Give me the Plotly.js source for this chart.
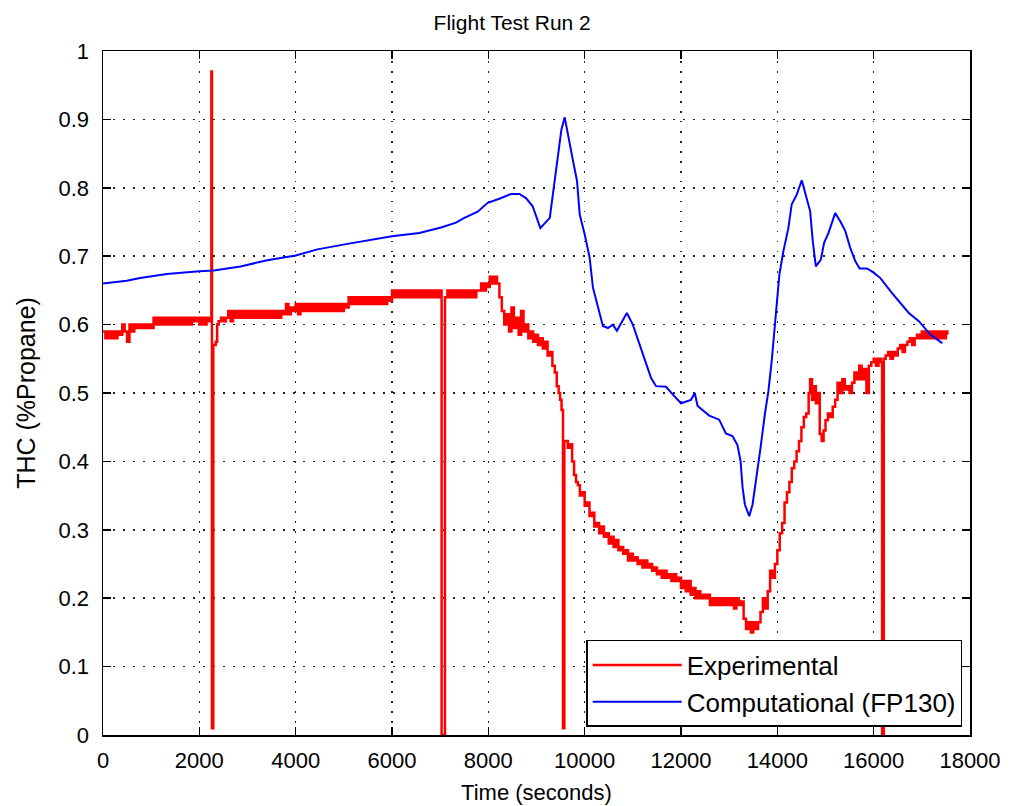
<!DOCTYPE html>
<html>
<head>
<meta charset="utf-8">
<script src="https://cdn.plot.ly/plotly-3.0.1.min.js"></script>
<style>
  html, body { margin: 0; padding: 0; background: #ffffff; }
  #chart { width: 1016px; height: 806px; }
</style>
</head>
<body>
<div id="chart"></div>
<script>
// Experimental THC record (seconds, %Propane)
const expTime = [
  0, 50, 100, 150, 200, 250, 300, 350,
  400, 450, 500, 550, 600, 650,
  700, 750, 800, 850, 900, 950, 1000, 1050,
  1100, 1150, 1200, 1250, 1300, 1350, 1400, 1450, 1500, 1550, 1600, 1650, 1700, 1750, 1800, 1850, 1900, 1950, 2000, 2050, 2100, 2150, 2200,
  2250, 2262, 2290, 2340, 2370, 2400, 2450, 2500, 2550, 2600, 2650, 2700,
  2750, 2800, 2850, 2900, 2950, 3000, 3050, 3100, 3150, 3200, 3250, 3300, 3350, 3400, 3450, 3500, 3550, 3600, 3650, 3700,
  3750, 3800, 3850, 3900, 3950, 4000, 4050, 4100,
  4150, 4200, 4250, 4300, 4350, 4400, 4450, 4500, 4550, 4600, 4650, 4700, 4750, 4800, 4850, 4900, 4950, 5000, 5050,
  5100, 5150, 5200, 5250, 5300, 5350, 5400, 5450, 5500, 5550, 5600, 5650, 5700, 5750, 5800, 5850, 5900, 5950, 6000,
  6050, 6100, 6150, 6200, 6250, 6300, 6350, 6400, 6450, 6500, 6550, 6600, 6650, 6700, 6750, 6800, 6850, 6900, 6950, 7000,
  7030, 7062, 7100, 7150, 7200, 7250, 7300, 7350, 7400, 7450, 7500, 7550, 7600, 7650, 7700, 7750,
  7800, 7850, 7900, 7950, 8000,
  8030, 8080, 8130, 8180, 8230, 8280,
  8330, 8380, 8430, 8480, 8530, 8580, 8630, 8680, 8730,
  8780, 8830, 8880, 8930, 8980, 9030, 9080, 9130, 9180,
  9230, 9280, 9330, 9380, 9420, 9460, 9490, 9520,
  9550, 9578, 9650, 9700, 9740, 9780, 9820, 9860, 9900, 9950,
  10000, 10050, 10100, 10150, 10200, 10250, 10300, 10350, 10400, 10450,
  10500, 10550, 10600, 10650, 10700, 10750, 10800, 10850, 10900, 10950,
  11000, 11050, 11100, 11150, 11200, 11250, 11300, 11350, 11400, 11450,
  11500, 11550, 11600, 11650, 11700, 11750, 11800, 11850, 11900, 11950,
  12000, 12050, 12100, 12150, 12200, 12250, 12300, 12350, 12400, 12450,
  12500, 12550, 12600, 12650, 12700, 12750, 12800, 12850, 12900, 12950,
  13000, 13050, 13100, 13150, 13200, 13250,
  13300, 13350, 13400, 13450, 13500, 13550, 13600, 13650, 13700, 13750,
  13800, 13850, 13900, 13950, 14000, 14050, 14100, 14150, 14200, 14250,
  14300, 14350, 14400, 14450, 14500, 14550, 14600, 14650, 14680, 14720,
  14760, 14800, 14850, 14880, 14920, 14960, 15000, 15050, 15100, 15150,
  15200, 15250, 15300, 15350, 15400, 15450, 15500, 15550, 15600, 15650,
  15700, 15750, 15800, 15850, 15900, 15950, 16000, 16050, 16100, 16150,
  16175, 16210, 16250, 16300, 16350, 16400, 16450, 16500, 16550, 16600,
  16650, 16700, 16750, 16800, 16850, 16900, 16950, 17000, 17050, 17100,
  17150, 17200, 17250, 17300, 17350, 17400, 17450, 17500, 17530
];
const expTHC = [
  0.590, 0.580, 0.590, 0.580, 0.590, 0.580, 0.590, 0.585,
  0.600, 0.590, 0.575, 0.600, 0.590, 0.600,
  0.595, 0.600, 0.595, 0.600, 0.595, 0.600, 0.595, 0.610,
  0.600, 0.610, 0.600, 0.610, 0.600, 0.610, 0.600, 0.610, 0.600, 0.610, 0.600, 0.610, 0.600, 0.610, 0.600, 0.610, 0.605, 0.610, 0.600, 0.610, 0.600, 0.610, 0.605,
  0.970, 0.010, 0.570, 0.575, 0.600, 0.605, 0.610, 0.605, 0.610, 0.620, 0.605, 0.620,
  0.610, 0.620, 0.610, 0.620, 0.610, 0.620, 0.610, 0.620, 0.610, 0.620, 0.610, 0.620, 0.610, 0.620, 0.610, 0.620, 0.610, 0.620, 0.610, 0.620,
  0.615, 0.630, 0.615, 0.625, 0.620, 0.630, 0.615, 0.630,
  0.620, 0.630, 0.620, 0.630, 0.620, 0.630, 0.620, 0.630, 0.620, 0.630, 0.620, 0.630, 0.620, 0.630, 0.620, 0.630, 0.620, 0.630, 0.625,
  0.640, 0.630, 0.640, 0.630, 0.640, 0.630, 0.640, 0.630, 0.640, 0.630, 0.640, 0.630, 0.640, 0.630, 0.640, 0.630, 0.640, 0.635, 0.650,
  0.640, 0.650, 0.640, 0.650, 0.640, 0.650, 0.640, 0.650, 0.640, 0.650, 0.640, 0.650, 0.640, 0.650, 0.640, 0.650, 0.640, 0.650, 0.640, 0.650,
  0.000, 0.000, 0.640, 0.650, 0.640, 0.650, 0.640, 0.650, 0.640, 0.650, 0.640, 0.650, 0.640, 0.650, 0.640, 0.650,
  0.650, 0.660, 0.650, 0.660, 0.655,
  0.670, 0.660, 0.670, 0.660, 0.640, 0.620,
  0.600, 0.615, 0.590, 0.625, 0.595, 0.610, 0.585, 0.620, 0.590,
  0.600, 0.580, 0.590, 0.575, 0.585, 0.570, 0.580, 0.565, 0.575,
  0.555, 0.560, 0.540, 0.530, 0.510, 0.500, 0.490, 0.475,
  0.010, 0.430, 0.420, 0.425, 0.400, 0.380, 0.370, 0.365, 0.350, 0.355,
  0.335, 0.340, 0.320, 0.325, 0.305, 0.310, 0.295, 0.305, 0.290, 0.295,
  0.280, 0.290, 0.275, 0.285, 0.270, 0.275, 0.265, 0.270, 0.255, 0.265,
  0.255, 0.260, 0.250, 0.255, 0.245, 0.255, 0.245, 0.250, 0.240, 0.245,
  0.235, 0.240, 0.230, 0.240, 0.230, 0.235, 0.225, 0.235, 0.225, 0.230,
  0.215, 0.225, 0.210, 0.225, 0.205, 0.215, 0.200, 0.210, 0.200, 0.205,
  0.200, 0.205, 0.190, 0.200, 0.190, 0.200, 0.190, 0.200, 0.190, 0.200,
  0.190, 0.200, 0.185, 0.200, 0.190, 0.195,
  0.170, 0.155, 0.165, 0.150, 0.165, 0.155, 0.165, 0.180, 0.200, 0.185,
  0.210, 0.240, 0.230, 0.250, 0.270, 0.295, 0.310, 0.340, 0.355, 0.370,
  0.390, 0.400, 0.415, 0.430, 0.450, 0.465, 0.470, 0.500, 0.520, 0.490,
  0.510, 0.485, 0.500, 0.440, 0.430, 0.445, 0.460, 0.470, 0.465, 0.480,
  0.490, 0.515, 0.500, 0.520, 0.505, 0.510, 0.500, 0.515, 0.530, 0.520,
  0.540, 0.520, 0.535, 0.500, 0.540, 0.545, 0.550, 0.540, 0.550, 0.545,
  0.000, 0.550, 0.555, 0.560, 0.550, 0.560, 0.555, 0.565, 0.570, 0.560,
  0.570, 0.575, 0.580, 0.570, 0.580, 0.585, 0.580, 0.590, 0.580, 0.590,
  0.580, 0.590, 0.580, 0.590, 0.580, 0.590, 0.580, 0.590, 0.585
];

// FP130 model prediction (seconds, %Propane)
const compTime = [
  0, 493, 771, 1326, 2000, 2299, 2854, 3410, 4000, 4451,
  5076, 5633, 6000, 6567, 7017, 7329, 7502, 7779, 7986, 8228,
  8470, 8643, 8782, 8920, 9080, 9276, 9379, 9448, 9517, 9586,
  9655, 9759, 9841, 9897, 10000, 10103, 10172, 10276, 10379, 10483,
  10586, 10669, 10876, 11000, 11172, 11379, 11483, 11690, 11828, 12000,
  12207, 12285, 12345, 12586, 12793, 12931, 13069, 13172, 13236, 13278,
  13326, 13417, 13486, 13569, 13653, 13743, 13813, 13882, 13972, 14042,
  14125, 14229, 14299, 14403, 14507, 14611, 14681, 14736, 14799, 14903,
  14972, 15063, 15201, 15306, 15410, 15514, 15618, 15708, 15861, 16000,
  16139, 16382, 16729, 16938, 17181, 17424
];
const compTHC = [
  0.660, 0.664, 0.668, 0.674, 0.678, 0.679, 0.685, 0.694, 0.701, 0.710,
  0.718, 0.724, 0.729, 0.734, 0.742, 0.749, 0.756, 0.765, 0.778, 0.784,
  0.791, 0.791, 0.785, 0.773, 0.741, 0.756, 0.810, 0.854, 0.885, 0.903,
  0.876, 0.839, 0.810, 0.761, 0.732, 0.698, 0.654, 0.624, 0.598, 0.595,
  0.600, 0.591, 0.617, 0.600, 0.566, 0.522, 0.510, 0.509, 0.498, 0.485,
  0.490, 0.500, 0.481, 0.467, 0.461, 0.441, 0.437, 0.424, 0.401, 0.362,
  0.337, 0.320, 0.337, 0.377, 0.421, 0.470, 0.502, 0.546, 0.615, 0.673,
  0.707, 0.741, 0.776, 0.790, 0.811, 0.785, 0.766, 0.722, 0.685, 0.695,
  0.720, 0.734, 0.763, 0.751, 0.737, 0.712, 0.693, 0.682, 0.682, 0.676,
  0.668, 0.646, 0.617, 0.605, 0.585, 0.573
];

const xTicks = [0, 2000, 4000, 6000, 8000, 10000, 12000, 14000, 16000, 18000];
const yTicks = [0, 0.1, 0.2, 0.3, 0.4, 0.5, 0.6, 0.7, 0.8, 0.9, 1];

const FONT = 'Liberation Sans, Arial, sans-serif';

const traces = [
  {
    x: expTime, y: expTHC, type: 'scatter', mode: 'lines',
    name: 'Experimental',
    line: { color: '#ff0000', width: 2.5, shape: 'hv' }
  },
  {
    x: compTime, y: compTHC, type: 'scatter', mode: 'lines',
    name: 'Computational (FP130)',
    line: { color: '#0000ff', width: 2 }
  }
];

const axisCommon = {
  showline: true, linecolor: '#000', linewidth: 1.5, mirror: 'ticks',
  ticks: 'inside', ticklen: 8, tickwidth: 1.5, tickcolor: '#000',
  showgrid: true, gridcolor: '#222', gridwidth: 1.5, griddash: '1.5px,8.5px',
  zeroline: false,
  tickfont: { family: FONT, size: 22, color: '#000' }
};

const layout = {
  width: 1016, height: 806,
  paper_bgcolor: '#fff', plot_bgcolor: '#fff',
  margin: { l: 103, r: 46, t: 51, b: 71 },
  font: { family: FONT, size: 22, color: '#000' },
  title: { text: 'Flight Test Run 2', x: 0.472, xref: 'paper', xanchor: 'center',
           y: 0.972, yanchor: 'middle',
           font: { family: FONT, size: 21, color: '#000' } },
  xaxis: Object.assign({}, axisCommon, {
    range: [0, 18000], tickvals: xTicks, ticktext: xTicks.map(String),
    ticklabelstandoff: 5,
    title: { text: 'Time (seconds)', standoff: 12, font: { family: FONT, size: 22, color: '#000' } }
  }),
  yaxis: Object.assign({}, axisCommon, {
    range: [0, 1], tickvals: yTicks, ticktext: yTicks.map(String),
    ticklabelstandoff: 8,
    title: { text: 'THC (%Propane)', standoff: 16, font: { family: FONT, size: 25, color: '#000' } }
  }),
  showlegend: true,
  legend: {
    x: 0.991, xanchor: 'right', y: 0.0117, yanchor: 'bottom',
    bgcolor: '#fff', bordercolor: '#000', borderwidth: 1.5,
    font: { family: FONT, size: 26, color: '#000' },
    itemwidth: 89, tracegroupgap: 0
  }
};

Plotly.newPlot('chart', traces, layout, { displayModeBar: false, staticPlot: true });
</script>
</body>
</html>
